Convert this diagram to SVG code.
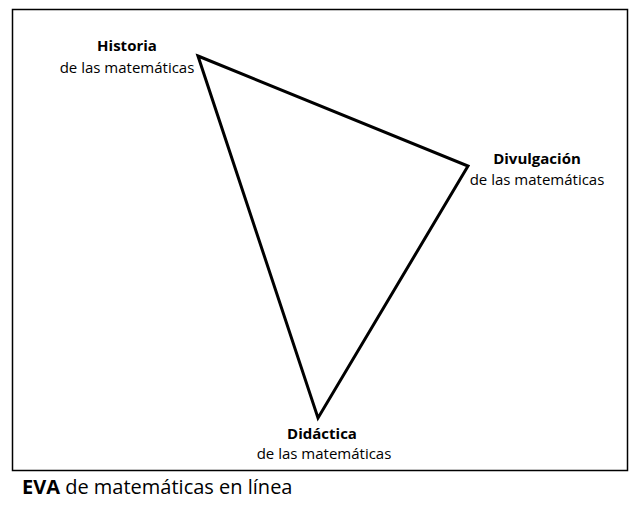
<svg xmlns="http://www.w3.org/2000/svg" width="629" height="506" viewBox="0 0 629 506">
<style>
text{font-family:"Open Sans","Liberation Sans",sans-serif;fill:#000}
.l{font-size:15px;text-anchor:middle}
.b{font-weight:bold}
</style>
<rect x="0" y="0" width="629" height="506" fill="#fff"/>
<rect x="12.5" y="9.5" width="615" height="461" fill="none" stroke="#000" stroke-width="1.5"/>
<g id="connectors">
<polygon points="198,56 468,166 318,418" fill="none" stroke="#000" stroke-width="3" stroke-linejoin="miter"/>
</g>
<g id="historia">
<text class="l b" x="127" y="51">Historia</text>
<text class="l" x="127" y="73">de las matemáticas</text>
</g>
<g id="divulgacion">
<text class="l b" x="537" y="164">Divulgación</text>
<text class="l" x="537" y="185">de las matemáticas</text>
</g>
<g id="didactica">
<text class="l b" x="322" y="439">Didáctica</text>
<text class="l" x="324" y="459">de las matemáticas</text>
</g>
<g id="caption">
<text x="22" y="494" font-size="20"><tspan font-weight="bold">EVA</tspan> de matemáticas en línea</text>
</g>
</svg>
